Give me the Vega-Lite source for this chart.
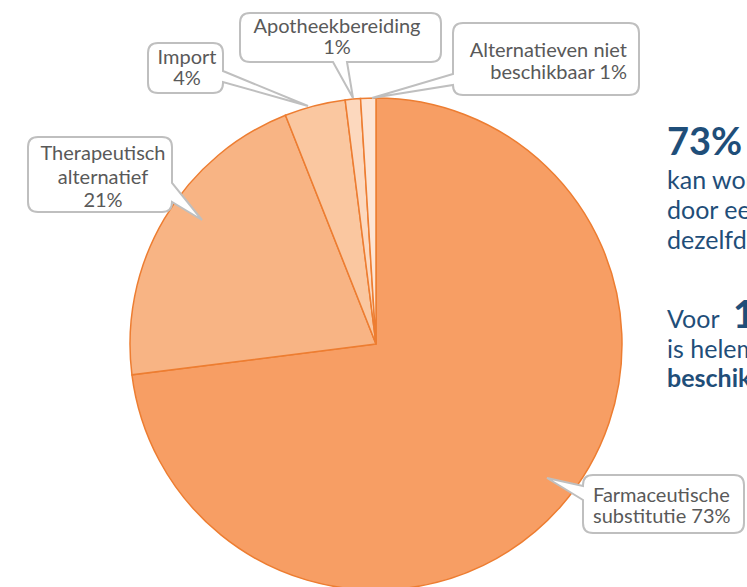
{
  "$schema": "https://vega.github.io/schema/vega-lite/v6.json",
  "width": 742,
  "height": 486,
  "autosize": "none",
  "padding": {"left": 5, "top": 101, "right": 0, "bottom": 0},
  "background": "#ffffff",
  "config": {"view": {"stroke": null}, "font": "Lato", "text": {"font": "Lato"}},
  "datasets": {
    "slices": [
      {"n": 1, "category": "Farmaceutische substitutie", "value": 73, "callout": "Farmaceutische|substitutie 73%"},
      {"n": 2, "category": "Therapeutisch alternatief", "value": 21, "callout": "Therapeutisch|alternatief |21%"},
      {"n": 3, "category": "Import", "value": 4, "callout": "Import|4%"},
      {"n": 4, "category": "Apotheekbereiding", "value": 1, "callout": "Apotheekbereiding|1%"},
      {"n": 5, "category": "Alternatieven niet beschikbaar", "value": 1, "callout": "Alternatieven niet|beschikbaar  1%"}
    ]
  },
  "layer": [
    {
      "data": {"name": "slices"},
      "mark": {"type": "arc", "outerRadius": 246, "stroke": "#ED7D31", "strokeWidth": 1.5},
      "encoding": {
        "theta": {"field": "value", "type": "quantitative", "stack": true},
        "order": {"field": "n", "type": "quantitative"},
        "color": {
          "field": "category", "type": "nominal", "legend": null,
          "scale": {
            "domain": ["Farmaceutische substitutie", "Therapeutisch alternatief", "Import", "Apotheekbereiding", "Alternatieven niet beschikbaar"],
            "range": ["#F79E64", "#F8B484", "#FAC7A0", "#FCD8BE", "#FDE4D3"]
          }
        }
      }
    },
    {
      "data": {"name": "slices"},
      "mark": {"type": "point", "size": 4, "filled": true, "fill": "#ffffff", "stroke": "#BFBFBF", "strokeWidth": 2, "opacity": 1, "fillOpacity": 1, "strokeOpacity": 1},
      "encoding": {
        "shape": {
          "field": "category", "type": "nominal", "legend": null,
          "scale": {
            "domain": ["Farmaceutische substitutie", "Therapeutisch alternatief", "Import", "Apotheekbereiding", "Alternatieven niet beschikbaar"],
            "range": [
              "M 217 131 H 358 Q 368 131 368 141 V 179 Q 368 189 358 189 H 217 Q 207 189 207 179 V 156 L 171 134 L 207 142 V 141 Q 207 131 217 131 Z",
              "M -338 -207 H -214 Q -204 -207 -204 -197 V -161 L -174 -124 L -204 -142 Q -204 -132 -214 -132 H -338 Q -348 -132 -348 -142 V -197 Q -348 -207 -338 -207 Z",
              "M -218 -301 H -163 Q -153 -301 -153 -291 V -273 L -68 -238 L -153 -262 V -261 Q -153 -251 -163 -251 H -218 Q -228 -251 -228 -261 V -291 Q -228 -301 -218 -301 Z",
              "M -126 -331 H 55 Q 65 -331 65 -321 V -292 Q 65 -282 55 -282 H -29 L -23 -246 L -43 -282 H -126 Q -136 -282 -136 -292 V -321 Q -136 -331 -126 -331 Z",
              "M 87 -321 H 253 Q 263 -321 263 -311 V -259 Q 263 -249 253 -249 H 87 Q 77 -249 77 -259 L -4 -246 L 77 -270 V -311 Q 77 -321 87 -321 Z"
            ]
          }
        }
      }
    },
    {
      "data": {"name": "slices"},
      "transform": [{"filter": "datum.category === 'Farmaceutische substitutie'"}],
      "mark": {"type": "text", "align": "left", "baseline": "alphabetic", "dx": 217, "dy": 158, "fontSize": 20, "lineHeight": 21, "lineBreak": "|", "color": "#595959"},
      "encoding": {"text": {"field": "callout", "type": "nominal"}}
    },
    {
      "data": {"name": "slices"},
      "transform": [{"filter": "datum.category === 'Therapeutisch alternatief'"}],
      "mark": {"type": "text", "align": "center", "baseline": "alphabetic", "dx": -273, "dy": -184, "fontSize": 20, "lineHeight": 23.5, "lineBreak": "|", "color": "#595959"},
      "encoding": {"text": {"field": "callout", "type": "nominal"}}
    },
    {
      "data": {"name": "slices"},
      "transform": [{"filter": "datum.category === 'Import'"}],
      "mark": {"type": "text", "align": "center", "baseline": "alphabetic", "dx": -189, "dy": -280, "fontSize": 20, "lineHeight": 21, "lineBreak": "|", "color": "#595959"},
      "encoding": {"text": {"field": "callout", "type": "nominal"}}
    },
    {
      "data": {"name": "slices"},
      "transform": [{"filter": "datum.category === 'Apotheekbereiding'"}],
      "mark": {"type": "text", "align": "center", "baseline": "alphabetic", "dx": -39, "dy": -311, "fontSize": 20, "lineHeight": 21, "lineBreak": "|", "color": "#595959"},
      "encoding": {"text": {"field": "callout", "type": "nominal"}}
    },
    {
      "data": {"name": "slices"},
      "transform": [{"filter": "datum.category === 'Alternatieven niet beschikbaar'"}],
      "mark": {"type": "text", "align": "right", "baseline": "alphabetic", "dx": 251, "dy": -287, "fontSize": 20, "lineHeight": 22, "lineBreak": "|", "color": "#595959"},
      "encoding": {"text": {"field": "callout", "type": "nominal"}}
    },
    {
      "data": {"values": [{"t": "73%"}]},
      "mark": {"type": "text", "align": "left", "baseline": "alphabetic", "dx": 291, "dy": -189, "fontSize": 38, "fontWeight": "bold", "color": "#1F4E79"},
      "encoding": {"text": {"field": "t", "type": "nominal"}}
    },
    {
      "data": {"values": [{"t": "kan worden vervangen|door een ander merk met|dezelfde werkzame stof"}]},
      "mark": {"type": "text", "align": "left", "baseline": "alphabetic", "dx": 291, "dy": -155, "fontSize": 25, "lineHeight": 30, "lineBreak": "|", "color": "#1F4E79"},
      "encoding": {"text": {"field": "t", "type": "nominal"}}
    },
    {
      "data": {"values": [{"t": "Voor|is helemaal geen alternatief"}]},
      "mark": {"type": "text", "align": "left", "baseline": "alphabetic", "dx": 291, "dy": -16, "fontSize": 25, "lineHeight": 30, "lineBreak": "|", "color": "#1F4E79"},
      "encoding": {"text": {"field": "t", "type": "nominal"}}
    },
    {
      "data": {"values": [{"t": "1%"}]},
      "mark": {"type": "text", "align": "left", "baseline": "alphabetic", "dx": 357, "dy": -16, "fontSize": 38, "fontWeight": "bold", "color": "#1F4E79"},
      "encoding": {"text": {"field": "t", "type": "nominal"}}
    },
    {
      "data": {"values": [{"t": "beschikbaar"}]},
      "mark": {"type": "text", "align": "left", "baseline": "alphabetic", "dx": 291, "dy": 43, "fontSize": 25, "fontWeight": "bold", "color": "#1F4E79"},
      "encoding": {"text": {"field": "t", "type": "nominal"}}
    }
  ]
}
